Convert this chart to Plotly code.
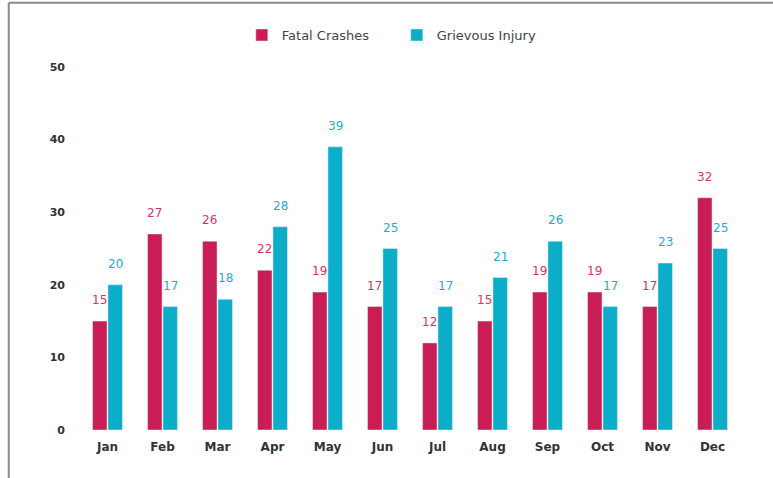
import plotly.graph_objects as go

months = ["Jan", "Feb", "Mar", "Apr", "May", "Jun", "Jul", "Aug", "Sep", "Oct", "Nov", "Dec"]
fatal = [15, 27, 26, 22, 19, 17, 12, 15, 19, 19, 17, 32]
grievous = [20, 17, 18, 28, 39, 25, 17, 21, 26, 17, 23, 25]

RED = "#C91D55"
CYAN = "#0BADC9"

fig = go.Figure()
fig.add_trace(go.Bar(x=months, y=fatal, name="Fatal Crashes", marker_color=RED))
fig.add_trace(go.Bar(x=months, y=grievous, name="Grievous Injury", marker_color=CYAN))

# value labels sit well above the bar tops
annotations = []
for i, m in enumerate(months):
    for val, col, dx in ((fatal[i], "#D6336C", -8), (grievous[i], "#1AAFD0", 8)):
        annotations.append(dict(x=m, y=val, xref="x", yref="y", text=str(val),
                                showarrow=False, xshift=dx, yshift=21,
                                font=dict(size=12, color=col, family="DejaVu Sans")))

fig.update_layout(
    width=773, height=478,
    margin=dict(l=80, r=33, t=67, b=48),
    paper_bgcolor="white", plot_bgcolor="white",
    barmode="group", bargap=0.44, bargroupgap=0.06,
    font=dict(family="DejaVu Sans", color="#333333"),
    legend=dict(orientation="h", x=0.48, xanchor="center", y=1.088, yanchor="middle",
                font=dict(size=13, color="#444444"), itemwidth=30,
                entrywidth=110, entrywidthmode="pixels"),
    annotations=annotations,
    shapes=[
        dict(type="line", xref="paper", yref="paper", x0=-0.108, x1=1.06, y0=1.177, y1=1.177,
             line=dict(color="#8a8a8a", width=2)),
        dict(type="line", xref="paper", yref="paper", x0=-0.108, x1=-0.108, y0=1.177, y1=-0.14,
             line=dict(color="#8a8a8a", width=2)),
    ],
)
fig.update_xaxes(showgrid=False, showline=False, ticks="", ticklabelstandoff=8,
                 tickfont=dict(size=12, color="#333333", family="DejaVu Sans", weight="bold"))
fig.update_yaxes(range=[0, 50], dtick=10, showgrid=False, zeroline=False, showline=False,
                 ticks="", ticklabelstandoff=14,
                 tickfont=dict(size=11, color="#333333", family="DejaVu Sans", weight="bold"))

fig.write_html("out.html", config={"displayModeBar": False},
               post_script="document.body.style.margin='0px';")
